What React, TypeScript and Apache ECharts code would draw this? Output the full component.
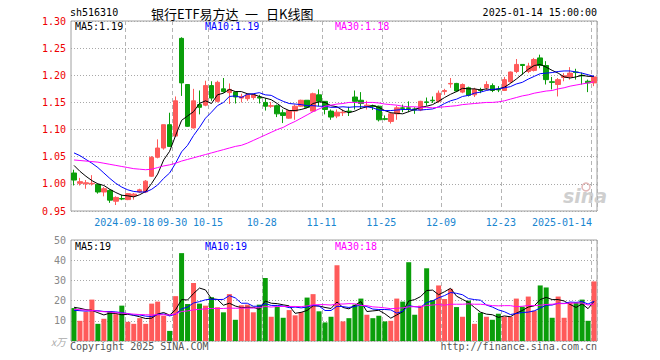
import React, { useEffect, useRef } from 'react';
import * as echarts from 'echarts';

const dates = ['2024-09-03','2024-09-04','2024-09-05','2024-09-06','2024-09-09','2024-09-10','2024-09-11','2024-09-12','2024-09-13','2024-09-18','2024-09-19','2024-09-20','2024-09-23','2024-09-24','2024-09-25','2024-09-26','2024-09-27','2024-09-30','2024-10-08','2024-10-09','2024-10-10','2024-10-11','2024-10-14','2024-10-15','2024-10-16','2024-10-17','2024-10-18','2024-10-21','2024-10-22','2024-10-23','2024-10-24','2024-10-25','2024-10-28','2024-10-29','2024-10-30','2024-10-31','2024-11-01','2024-11-04','2024-11-05','2024-11-06','2024-11-07','2024-11-08','2024-11-11','2024-11-12','2024-11-13','2024-11-14','2024-11-15','2024-11-18','2024-11-19','2024-11-20','2024-11-21','2024-11-22','2024-11-25','2024-11-26','2024-11-27','2024-11-28','2024-11-29','2024-12-02','2024-12-03','2024-12-04','2024-12-05','2024-12-06','2024-12-09','2024-12-10','2024-12-11','2024-12-12','2024-12-13','2024-12-16','2024-12-17','2024-12-18','2024-12-19','2024-12-20','2024-12-23','2024-12-24','2024-12-25','2024-12-26','2024-12-27','2024-12-30','2024-12-31','2025-01-02','2025-01-03','2025-01-06','2025-01-07','2025-01-08','2025-01-09','2025-01-10','2025-01-13','2025-01-14'];

const opens = [1.020,1.001,1.000,1.000,0.999,0.985,0.988,0.968,0.973,0.971,
 0.978,0.985,0.985,1.014,1.049,1.066,1.109,1.088,1.268,1.183,
 1.103,1.146,1.145,1.181,1.152,1.175,1.168,1.169,1.158,1.157,
 1.159,1.160,1.150,1.143,1.144,1.131,1.121,1.134,1.143,1.154,
 1.134,1.164,1.152,1.134,1.125,1.131,1.134,1.160,1.154,1.143,
 1.144,1.143,1.120,1.115,1.129,1.140,1.140,1.138,1.136,1.151,
 1.154,1.152,1.170,1.184,1.185,1.169,1.177,1.164,1.173,1.177,
 1.181,1.174,1.172,1.188,1.207,1.220,1.207,1.209,1.232,1.218,
 1.188,1.183,1.196,1.197,1.206,1.200,1.189,1.186];

const closes = [1.007,1.004,1.002,1.001,0.985,0.991,0.970,0.975,0.972,0.982,
 0.981,0.989,1.005,1.049,1.066,1.109,1.069,1.153,1.186,1.106,
 1.153,1.141,1.181,1.158,1.187,1.170,1.174,1.160,1.161,1.164,
 1.164,1.158,1.143,1.144,1.129,1.126,1.135,1.143,1.154,1.141,
 1.166,1.152,1.137,1.123,1.132,1.132,1.133,1.152,1.148,1.145,
 1.143,1.118,1.119,1.129,1.140,1.139,1.139,1.136,1.152,1.150,
 1.153,1.167,1.172,1.185,1.171,1.183,1.163,1.174,1.172,1.183,
 1.172,1.173,1.192,1.206,1.220,1.218,1.217,1.229,1.218,1.192,
 1.187,1.192,1.199,1.204,1.205,1.199,1.186,1.197];

const lows = [0.997,0.997,0.991,0.997,0.982,0.977,0.965,0.961,0.970,0.970,
 0.971,0.983,0.983,1.013,1.047,1.063,1.068,1.087,1.162,1.105,
 1.102,1.128,1.143,1.153,1.150,1.168,1.147,1.148,1.150,1.153,
 1.155,1.148,1.135,1.140,1.123,1.112,1.120,1.118,1.142,1.140,
 1.133,1.143,1.128,1.118,1.121,1.125,1.125,1.137,1.138,1.137,
 1.136,1.115,1.117,1.111,1.118,1.132,1.132,1.129,1.134,1.144,
 1.149,1.149,1.164,1.177,1.169,1.167,1.161,1.160,1.167,1.172,
 1.169,1.169,1.171,1.186,1.204,1.201,1.204,1.207,1.213,1.183,
 1.174,1.161,1.189,1.192,1.192,1.183,1.169,1.180];

const highs = [1.026,1.011,1.007,1.016,1.000,0.994,0.990,0.977,0.980,0.983,
 0.983,0.991,1.007,1.051,1.082,1.109,1.131,1.161,1.270,1.183,
 1.175,1.172,1.190,1.189,1.190,1.195,1.185,1.170,1.166,1.167,
 1.166,1.164,1.158,1.151,1.146,1.137,1.136,1.146,1.155,1.154,
 1.168,1.174,1.152,1.137,1.137,1.137,1.142,1.172,1.169,1.153,
 1.146,1.144,1.126,1.132,1.144,1.146,1.152,1.141,1.153,1.159,
 1.161,1.172,1.175,1.195,1.186,1.185,1.179,1.177,1.177,1.189,
 1.185,1.180,1.197,1.207,1.230,1.220,1.223,1.232,1.238,1.226,
 1.197,1.195,1.204,1.215,1.212,1.205,1.192,1.198];

const ma5 = [1.034,1.023,1.014,1.006,1.000,0.997,0.990,0.984,0.979,0.978,
 0.976,0.980,0.986,1.001,1.018,1.044,1.060,1.089,1.117,1.125,
 1.133,1.148,1.153,1.148,1.164,1.167,1.174,1.170,1.170,1.166,
 1.165,1.161,1.158,1.155,1.148,1.140,1.135,1.135,1.137,1.140,
 1.148,1.151,1.150,1.144,1.142,1.135,1.131,1.134,1.139,1.142,
 1.144,1.141,1.135,1.131,1.130,1.129,1.133,1.137,1.141,1.143,
 1.146,1.152,1.159,1.165,1.170,1.176,1.175,1.175,1.173,1.175,
 1.173,1.175,1.178,1.185,1.193,1.202,1.211,1.218,1.220,1.215,
 1.209,1.204,1.197,1.195,1.197,1.200,1.198,1.198];

const ma10 = [1.057,1.052,1.045,1.038,1.030,1.020,1.010,1.001,0.994,0.989,
 0.986,0.985,0.985,0.990,0.998,1.010,1.020,1.038,1.059,1.071,
 1.089,1.104,1.121,1.132,1.144,1.150,1.161,1.162,1.159,1.165,
 1.166,1.168,1.164,1.163,1.157,1.152,1.148,1.147,1.146,1.144,
 1.144,1.143,1.143,1.141,1.141,1.142,1.141,1.142,1.142,1.142,
 1.140,1.136,1.135,1.135,1.136,1.137,1.137,1.136,1.136,1.137,
 1.138,1.142,1.148,1.153,1.156,1.161,1.163,1.167,1.169,1.172,
 1.174,1.175,1.177,1.179,1.184,1.187,1.193,1.198,1.203,1.204,
 1.205,1.207,1.208,1.208,1.206,1.204,1.201,1.198];

const ma30 = [1.044,1.043,1.042,1.041,1.040,1.038,1.036,1.034,1.032,1.030,
 1.028,1.027,1.026,1.027,1.030,1.033,1.035,1.038,1.042,1.045,
 1.048,1.051,1.054,1.057,1.060,1.063,1.066,1.069,1.071,1.075,
 1.080,1.085,1.090,1.095,1.100,1.104,1.110,1.115,1.121,1.127,
 1.133,1.138,1.143,1.145,1.147,1.148,1.150,1.150,1.149,1.150,
 1.150,1.149,1.147,1.146,1.145,1.143,1.142,1.142,1.141,1.141,
 1.140,1.141,1.142,1.143,1.144,1.146,1.147,1.148,1.149,1.150,
 1.150,1.151,1.153,1.156,1.159,1.162,1.164,1.167,1.169,1.171,
 1.172,1.175,1.177,1.180,1.182,1.184,1.186,1.188];

const volumes = [16.3,10,14.5,20.5,8.5,11,14.7,13.3,17.5,9.5,
 8.5,11.3,8.5,18.5,19.5,12.5,5,22.2,43.5,18.3,
 28.7,18.5,17.5,21.7,16.7,14.2,23.2,10.5,17.7,18,
 14.2,18,31.2,12,17,11.5,15.3,12.7,14.3,21.5,
 23.2,14.7,9.2,12,37.5,9.7,11.3,18,21,13,
 11.3,12.5,9.7,10,21,19.5,39,13,17.5,36,
 20.3,27.5,20.8,25.8,16.8,12,20,8.5,14,12,
 10.5,13.5,12,12,21,17,22,15,27.5,26.5,
 11.5,22,11.5,19,19,20.5,10,29.5];

const volMa5 = [16.7,16.2,15.5,15.2,14.0,12.9,13.8,13.6,13.0,13.2,
 12.7,12.0,11.1,11.3,13.3,14.1,12.8,15.5,20.5,20.3,
 23.5,26.2,25.3,20.9,20.6,17.7,18.7,17.3,16.5,16.7,
 16.7,15.7,19.8,18.7,18.5,17.9,17.4,13.7,14.2,15.1,
 17.4,17.3,16.6,16.1,19.3,16.6,15.9,17.7,19.5,14.6,
 14.9,15.2,13.5,11.3,12.9,14.5,19.8,20.5,22.0,25.0,
 25.2,22.9,24.4,26.1,22.2,20.6,19.1,16.6,14.3,13.3,
 13.0,11.7,12.4,12.0,13.8,15.1,16.8,17.4,20.5,21.6,
 20.5,20.5,19.8,18.1,16.6,18.4,16.0,19.6];

const volMa10 = [15.2,15.0,14.8,15.0,15.0,14.6,14.6,14.4,14.0,13.6,
 12.8,12.9,12.3,12.1,13.2,13.4,12.4,13.3,15.9,16.8,
 18.8,19.5,20.4,20.7,20.5,20.6,22.5,21.3,18.7,18.7,
 17.2,17.2,18.5,17.6,17.6,17.3,16.5,16.8,16.4,16.8,
 17.7,17.3,15.1,15.1,17.2,17.0,16.6,17.1,17.8,17.0,
 15.8,15.6,15.6,15.4,13.8,14.7,17.5,17.0,16.7,19.0,
 19.9,21.4,22.5,24.0,23.6,22.9,21.0,20.5,20.2,17.8,
 16.8,15.4,14.5,13.1,13.6,14.1,14.3,14.9,16.3,17.7,
 17.8,18.7,18.6,19.3,19.1,19.5,18.3,19.7];

const volMa30 = [15.7,15.5,15.3,15.1,14.8,14.5,14.3,14.0,13.8,13.5,
 13.3,13.1,13.0,12.9,13.0,13.0,12.9,13.4,14.6,14.9,
 15.4,15.7,15.9,16.1,16.1,16.1,16.3,16.2,16.3,16.3,
 16.3,16.5,17.1,16.8,17.1,17.1,17.1,17.1,17.0,17.4,
 17.9,18.0,18.0,17.8,18.4,18.3,18.5,18.4,17.6,17.5,
 16.9,16.7,16.4,16.0,16.2,16.4,16.9,17.0,17.0,17.6,
 17.8,18.1,17.7,18.2,18.2,18.2,18.4,18.2,18.2,17.9,
 17.5,17.4,17.5,17.5,17.0,17.2,17.6,17.5,17.7,18.1,
 18.2,18.5,18.5,18.8,18.8,18.8,17.8,18.4];

const labelDates = ['2024-09-18','2024-09-30','2024-10-15','2024-10-28','2024-11-11','2024-11-25','2024-12-09','2024-12-23','2025-01-14'];
const labelTexts = ['2024-09-18','09-30','10-15','10-28','11-11','11-25','12-09','12-23','2025-01-14'];

const priceLegend = ['MA5:1.19', 'MA10:1.19', 'MA30:1.18'];
const volLegend = ['MA5:19', 'MA10:19', 'MA30:18'];
const legendColors = ['#000000', '#0000ff', '#ff00ff'];

const MONO = 'DejaVu Sans Mono';
const UP = '#ff5a5a';
const DOWN = '#0a9e0a';

export default function App() {
  const ref = useRef<HTMLDivElement>(null);
  useEffect(() => {
    const chart = echarts.init(ref.current as HTMLDivElement, null, { renderer: 'svg' });
    const labelIdx = new Set(labelDates.map((d) => dates.indexOf(d)));
    const lastLabel = labelDates[labelDates.length - 1];
    const candleData = dates.map((_, i) => [opens[i], closes[i], lows[i], highs[i]]);
    const volData = volumes.map((v, i) => ({
      value: v,
      itemStyle: { color: closes[i] >= opens[i] ? UP : DOWN },
    }));
    const vSplit = { show: true, interval: (i: number) => labelIdx.has(i), lineStyle: { color: '#b4b4b4', type: [4, 3], width: 1 } };
    const hSplit = { show: true, lineStyle: { color: '#a8a8a8', type: [1, 2], width: 1 } };
    const lineS = (name: string, data: number[], color: string, axis: number) => ({
      name, type: 'line', data, xAxisIndex: axis, yAxisIndex: axis, symbol: 'none', smooth: false,
      lineStyle: { color, width: 1 }, itemStyle: { color }, z: 5, silent: true,
    });
    const txt = (text: string, x: number, y: number, fill: string, opts: any = {}) => ({
      type: 'text', x, y, silent: true,
      style: {
        text, fill, fontSize: opts.fontSize || 10, fontFamily: opts.fontFamily || MONO,
        fontStyle: opts.fontStyle || 'normal', fontWeight: opts.fontWeight || 'normal',
        align: opts.align || 'left', verticalAlign: 'middle',
        textAlign: opts.align || 'left', textVerticalAlign: 'middle',
      },
    });
    const cjk = { fontSize: 13, fontFamily: 'Noto Sans CJK SC' };
    const graphics: any[] = [
      txt('sh516310', 70, 12, '#000'),
      txt('银行ETF易方达', 151, 13, '#000', cjk),
      txt('一', 245, 13, '#000', cjk),
      txt('日K线图', 266, 13, '#000', cjk),
      txt('2025-01-14 15:00:00', 597, 12, '#000', { align: 'right' }),
      txt('Copyright 2025 SINA.COM', 70, 346, '#555'),
      txt('http://finance.sina.com.cn', 597, 346, '#555', { align: 'right' }),
      txt('sina', 563, 196, '#cfcfcf', { fontSize: 19, fontFamily: 'DejaVu Sans', fontStyle: 'italic', fontWeight: 'bold' }),
      { type: 'circle', silent: true, shape: { cx: 586, cy: 187, r: 4 }, style: { fill: 'none', stroke: '#e3b8b8', lineWidth: 1.5 } },
    ];
    const legendX = [75, 205, 335];
    priceLegend.forEach((t, k) => graphics.push(txt(t, legendX[k], 26.5, legendColors[k])));
    volLegend.forEach((t, k) => graphics.push(txt(t, legendX[k], 246.5, legendColors[k])));

    const option: any = {
      animation: false,
      backgroundColor: '#ffffff',
      textStyle: { fontFamily: MONO },
      grid: [
        { left: 71, top: 21, width: 526, height: 190, show: true, borderColor: '#a0a0a0', borderWidth: 1 },
        { left: 71, top: 240, width: 526, height: 101, show: true, borderColor: '#a0a0a0', borderWidth: 1 },
      ],
      xAxis: [
        {
          type: 'category', gridIndex: 0, data: dates, boundaryGap: true,
          axisLine: { show: false }, axisTick: { show: false },
          axisLabel: {
            interval: (i: number) => labelIdx.has(i),
            margin: 6,
            formatter: (v: string) => {
              const k = labelDates.indexOf(v);
              const t = k >= 0 ? labelTexts[k] : '';
              return v === lastLabel ? `{b|${t}}` : `{a|${t}}`;
            },
            rich: {
              a: { color: '#1a86d0', fontFamily: MONO, fontSize: 10, padding: [0, 7, 0, 0] },
              b: { color: '#1a86d0', fontFamily: MONO, fontSize: 10, padding: [0, 64, 0, 0] },
            },
          },
          splitLine: vSplit,
        },
        {
          type: 'category', gridIndex: 1, data: dates, boundaryGap: true,
          axisLine: { show: false }, axisTick: { show: false }, axisLabel: { show: false },
          splitLine: vSplit,
        },
      ],
      yAxis: [
        {
          type: 'value', gridIndex: 0, min: 0.95, max: 1.3, interval: 0.05, scale: false,
          axisLine: { show: false }, axisTick: { show: false },
          axisLabel: { color: '#ee0000', fontFamily: MONO, fontSize: 10, margin: 5, formatter: (v: number) => v.toFixed(2) },
          splitLine: hSplit,
        },
        {
          type: 'value', gridIndex: 1, min: 0, max: 50, interval: 10,
          axisLine: { show: false }, axisTick: { show: false },
          axisLabel: {
            color: '#888888', fontFamily: MONO, fontSize: 10, margin: 5,
            formatter: (v: number) => (v === 0 ? '{u|x万}' : String(v)),
            rich: { u: { color: '#aaaaaa', fontStyle: 'italic', fontSize: 10, fontFamily: 'Noto Sans CJK SC' } },
          },
          splitLine: hSplit,
        },
      ],
      series: [
        {
          name: 'K', type: 'candlestick', data: candleData, xAxisIndex: 0, yAxisIndex: 0, barWidth: 5,
          itemStyle: { color: UP, color0: DOWN, borderColor: UP, borderColor0: DOWN, borderWidth: 1 },
          silent: true,
        },
        lineS('MA5', ma5, '#000000', 0),
        lineS('MA10', ma10, '#0000ff', 0),
        lineS('MA30', ma30, '#ff00ff', 0),
        { name: 'VOL', type: 'bar', data: volData, xAxisIndex: 1, yAxisIndex: 1, barWidth: 5, silent: true },
        lineS('VMA5', volMa5, '#000000', 1),
        lineS('VMA10', volMa10, '#0000ff', 1),
        lineS('VMA30', volMa30, '#ff00ff', 1),
      ],
      graphic: graphics,
    };
    chart.setOption(option);
    return () => chart.dispose();
  }, []);
  return <div ref={ref} style={{ position: 'fixed', left: 0, top: 0, width: 660, height: 360, background: '#fff' }} />;
}
